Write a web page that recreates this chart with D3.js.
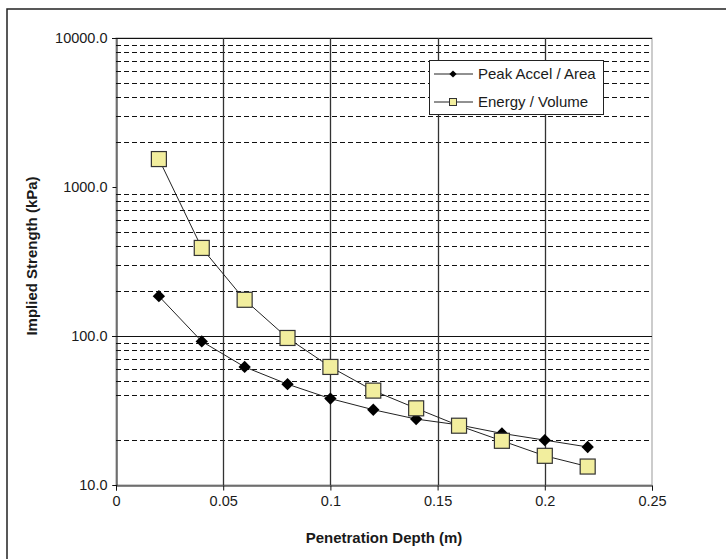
<!DOCTYPE html>
<html>
<head>
<meta charset="utf-8">
<script src="https://cdn.jsdelivr.net/npm/d3@7"></script>
<style>
  body { margin: 0; background: #fff; }
  text { font-family: "Liberation Sans", Arial, sans-serif; fill: #1a1a1a; }
</style>
</head>
<body>
<div class="main-container"></div>
<script>
// values
const depths = [0.02, 0.04, 0.06, 0.08, 0.10, 0.12, 0.14, 0.16, 0.18, 0.20, 0.22];
const peakAccel = [185, 92, 62, 47.5, 38, 32, 27.7, 25.3, 22.2, 20, 18];
const energyVolume = [1540, 390, 175, 97, 62, 43, 32.7, 25, 19.8, 15.7, 13.3];
const seriesNames = ["Peak Accel / Area", "Energy / Volume"];
const xTicks = [0, 0.05, 0.1, 0.15, 0.2, 0.25];
const yTicks = [10, 100, 1000, 10000];
const majorGrid = [100, 10000];
const minorGrid = [20, 40, 50, 60, 70, 80, 90,
  200, 300, 400, 500, 600, 700, 800, 900,
  2000, 3000, 4000, 5000, 6000, 7000, 8000, 9000];

let width = 726,
  height = 559,
  plot = {left: 116, right: 652, top: 38, bottom: 485};

const svg = d3.select(".main-container")
  .append("svg")
  .attr("width", width)
  .attr("height", height);

// outer frame (cropped: only left and top edges show)
svg.append("path")
  .attr("d", `M7,${height} V9 H${width}`)
  .attr("fill", "none")
  .attr("stroke", "#222")
  .attr("stroke-width", 1.5);

let x = d3.scaleLinear()
  .domain([0, 0.25])
  .range([plot.left, plot.right]);

let y = d3.scaleLog()
  .domain([10, 10000])
  .range([plot.bottom, plot.top]);

// plot area border
svg.append("rect")
  .attr("x", plot.left)
  .attr("y", plot.top)
  .attr("width", plot.right - plot.left)
  .attr("height", plot.bottom - plot.top)
  .attr("fill", "#fff")
  .attr("stroke", "#999")
  .attr("stroke-width", 1);

// dashed minor grid
svg.append("g")
  .selectAll("line")
  .data(minorGrid)
  .join("line")
  .attr("x1", plot.left)
  .attr("x2", plot.right)
  .attr("y1", d => Math.round(y(d)) + 0.5)
  .attr("y2", d => Math.round(y(d)) + 0.5)
  .attr("stroke", "#111")
  .attr("stroke-dasharray", "5,3");

// solid major grid
svg.append("g")
  .selectAll("line")
  .data(majorGrid)
  .join("line")
  .attr("x1", plot.left - 4)
  .attr("x2", plot.right)
  .attr("y1", d => Math.round(y(d)) + 0.5)
  .attr("y2", d => Math.round(y(d)) + 0.5)
  .attr("stroke", "#111");

// vertical grid
svg.append("g")
  .selectAll("line")
  .data(xTicks.slice(1, -1))
  .join("line")
  .attr("x1", d => Math.round(x(d)) + 0.5)
  .attr("x2", d => Math.round(x(d)) + 0.5)
  .attr("y1", plot.top)
  .attr("y2", plot.bottom)
  .attr("stroke", "#333")
  .attr("stroke-width", 1.3);

// axes
const xAxis = svg.append("g")
  .attr("transform", `translate(0,${plot.bottom + 0.5})`)
  .call(d3.axisBottom(x)
    .tickValues(xTicks)
    .tickFormat(d => String(d))
    .tickSize(5)
    .tickPadding(5));

const yAxis = svg.append("g")
  .attr("transform", `translate(${plot.left + 0.5},0)`)
  .call(d3.axisLeft(y)
    .tickValues(yTicks)
    .tickFormat(d3.format(".1f"))
    .tickSize(4)
    .tickPadding(5));

[xAxis, yAxis].forEach(a => {
  a.select(".domain").attr("stroke", "#111");
  a.selectAll(".tick line").attr("stroke", "#111");
  a.selectAll(".tick text")
    .style("font-family", "'Liberation Sans', Arial, sans-serif")
    .style("font-size", "14.5px")
    .attr("fill", "#1a1a1a");
});

// axis titles
svg.append("text")
  .attr("x", (plot.left + plot.right) / 2)
  .attr("y", 543)
  .attr("text-anchor", "middle")
  .style("font-size", "15px")
  .style("font-weight", "bold")
  .text("Penetration Depth (m)");

svg.append("text")
  .attr("transform", "translate(37,256) rotate(-90)")
  .attr("text-anchor", "middle")
  .style("font-size", "15px")
  .style("font-weight", "bold")
  .text("Implied Strength (kPa)");

// series
const line = d3.line()
  .x((d, i) => x(depths[i]))
  .y(d => y(d));

const diamond = d3.symbol().type(d3.symbolSquare).size(76);

svg.append("path")
  .datum(peakAccel)
  .attr("fill", "none")
  .attr("stroke", "#222")
  .attr("stroke-width", 1)
  .attr("d", line);

svg.append("g")
  .selectAll("path")
  .data(peakAccel)
  .join("path")
  .attr("transform", (d, i) => `translate(${x(depths[i])},${y(d)}) rotate(45)`)
  .attr("d", diamond)
  .attr("fill", "#000");

svg.append("path")
  .datum(energyVolume)
  .attr("fill", "none")
  .attr("stroke", "#222")
  .attr("stroke-width", 1)
  .attr("d", line);

svg.append("g")
  .selectAll("rect")
  .data(energyVolume)
  .join("rect")
  .attr("x", (d, i) => x(depths[i]) - 7.5)
  .attr("y", d => y(d) - 7.5)
  .attr("width", 15)
  .attr("height", 15)
  .attr("fill", "#f2ee9e")
  .attr("stroke", "#333")
  .attr("stroke-width", 1.2);

// legend
const legend = svg.append("g")
  .attr("transform", "translate(429,60)");

legend.append("rect")
  .attr("x", 0.5)
  .attr("y", 0.5)
  .attr("width", 174)
  .attr("height", 54)
  .attr("fill", "#fff")
  .attr("stroke", "#222");

const items = legend.selectAll("g.item")
  .data(seriesNames)
  .join("g")
  .attr("class", "item")
  .attr("transform", (d, i) => `translate(0,${14 + i * 28})`);

items.append("line")
  .attr("x1", 5)
  .attr("x2", 44)
  .attr("stroke", "#222");

items.filter((d, i) => i === 0)
  .append("path")
  .attr("transform", "translate(24,0) rotate(45)")
  .attr("d", d3.symbol().type(d3.symbolSquare).size(26))
  .attr("fill", "#000");

items.filter((d, i) => i === 1)
  .append("rect")
  .attr("x", 20.5)
  .attr("y", -3.5)
  .attr("width", 7)
  .attr("height", 7)
  .attr("fill", "#f2ee9e")
  .attr("stroke", "#333");

items.append("text")
  .attr("x", 49)
  .attr("dy", "0.35em")
  .style("font-size", "15px")
  .text(d => d);
</script>
</body>
</html>
